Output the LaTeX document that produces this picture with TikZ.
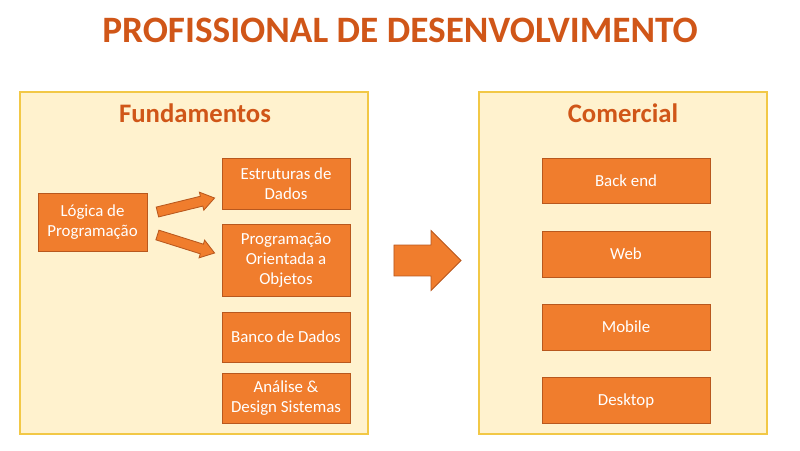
\documentclass[tikz,border=0pt]{standalone}
\usepackage{fontspec}
\setmainfont{Carlito}
\usetikzlibrary{calc,positioning}

\definecolor{titleorange}{RGB}{208,86,24}
\definecolor{boxorange}{RGB}{240,125,45}
\definecolor{boxline}{RGB}{184,88,30}
\definecolor{panelfill}{RGB}{255,242,206}
\definecolor{panelline}{RGB}{242,200,70}

\begin{document}
\begin{tikzpicture}[x=0.025cm, y=0.025cm,
  panel/.style={draw=panelline, fill=panelfill, line width=1.4pt, inner sep=0pt},
  heading/.style={text=titleorange, font=\fontsize{19}{22}\selectfont\bfseries},
  topic/.style={draw=boxline, fill=boxorange, line width=0.6pt, text=white,
    align=center, inner sep=0pt, font=\fontsize{12}{14.2}\selectfont},
  blockarrow/.style={draw=boxline, fill=boxorange, line width=0.6pt, line join=miter}]
\useasboundingbox (0,0) rectangle (800,450);

% title
\node[text=titleorange, font=\fontsize{26.5}{30}\selectfont\bfseries] (title) at (400,420) {PROFISSIONAL DE DESENVOLVIMENTO};

% the two panels
\node[panel, minimum width=348*0.025cm, minimum height=342*0.025cm] (fund) at (194,187) {};
\node[panel, minimum width=288*0.025cm, minimum height=342*0.025cm] (com) at (623,187) {};
\node[heading] (fundtitle) at (195,337) {Fundamentos};
\node[heading] (comtitle) at (623,337) {Comercial};

% fundamentos boxes
\node[topic, minimum width=109*0.025cm, minimum height=58*0.025cm] (logica) at (92.5,228) {Lógica de\\Programação};
\node[topic, minimum width=128*0.025cm, minimum height=51*0.025cm] (estruturas) at (286,266.5) {Estruturas de\\Dados};
\node[topic, minimum width=128*0.025cm, minimum height=72*0.025cm] (poo) at (286,190) {Programação\\Orientada a\\Objetos};
\node[topic, minimum width=128*0.025cm, minimum height=50*0.025cm] (banco) at (286,113) {Banco de Dados};
\node[topic, minimum width=128*0.025cm, minimum height=50*0.025cm] (analise) at (286,52) {Análise \&\\Design Sistemas};

% comercial boxes
\node[topic, minimum width=168*0.025cm, minimum height=45*0.025cm] (backend) at (626,269.5) {Back end};
\node[topic, minimum width=168*0.025cm, minimum height=46*0.025cm] (web) at (626,196) {Web};
\node[topic, minimum width=168*0.025cm, minimum height=46*0.025cm] (mobile) at (626,123) {Mobile};
\node[topic, minimum width=168*0.025cm, minimum height=46*0.025cm] (desktop) at (626,49.5) {Desktop};

% end points of the block arrows
\coordinate (t1) at ($(logica.east)+(10,10)$);
\coordinate (h1) at ($(estruturas.west)+(-7,-14.5)$);
\coordinate (t2) at ($(logica.east)+(10,-13)$);
\coordinate (h2) at ($(poo.west)+(-7,7)$);
\coordinate (t3) at ($(fund.east)+(25,2.5)$);
\coordinate (h3) at ($(com.west)+(-17,2.5)$);

% block arrows: tail/tip/shaft half width/head half width/head length
\foreach \t/\h/\s/\w/\l in {t1/h1/3.6pt/6.6pt/9.5pt, t2/h2/3.6pt/6.6pt/9.5pt, t3/h3/11pt/21.3pt/21.3pt} {
  \coordinate (\h b) at ($(\h)!\l!(\t)$);
  \filldraw[blockarrow] ($(\t)!\s!90:(\h)$) -- ($(\h b)!\s!90:(\h)$) -- ($(\h b)!\w!90:(\h)$)
    -- (\h) -- ($(\h b)!\w!-90:(\h)$) -- ($(\h b)!\s!-90:(\h)$) -- ($(\t)!\s!-90:(\h)$) -- cycle;
}
\end{tikzpicture}
\end{document}
